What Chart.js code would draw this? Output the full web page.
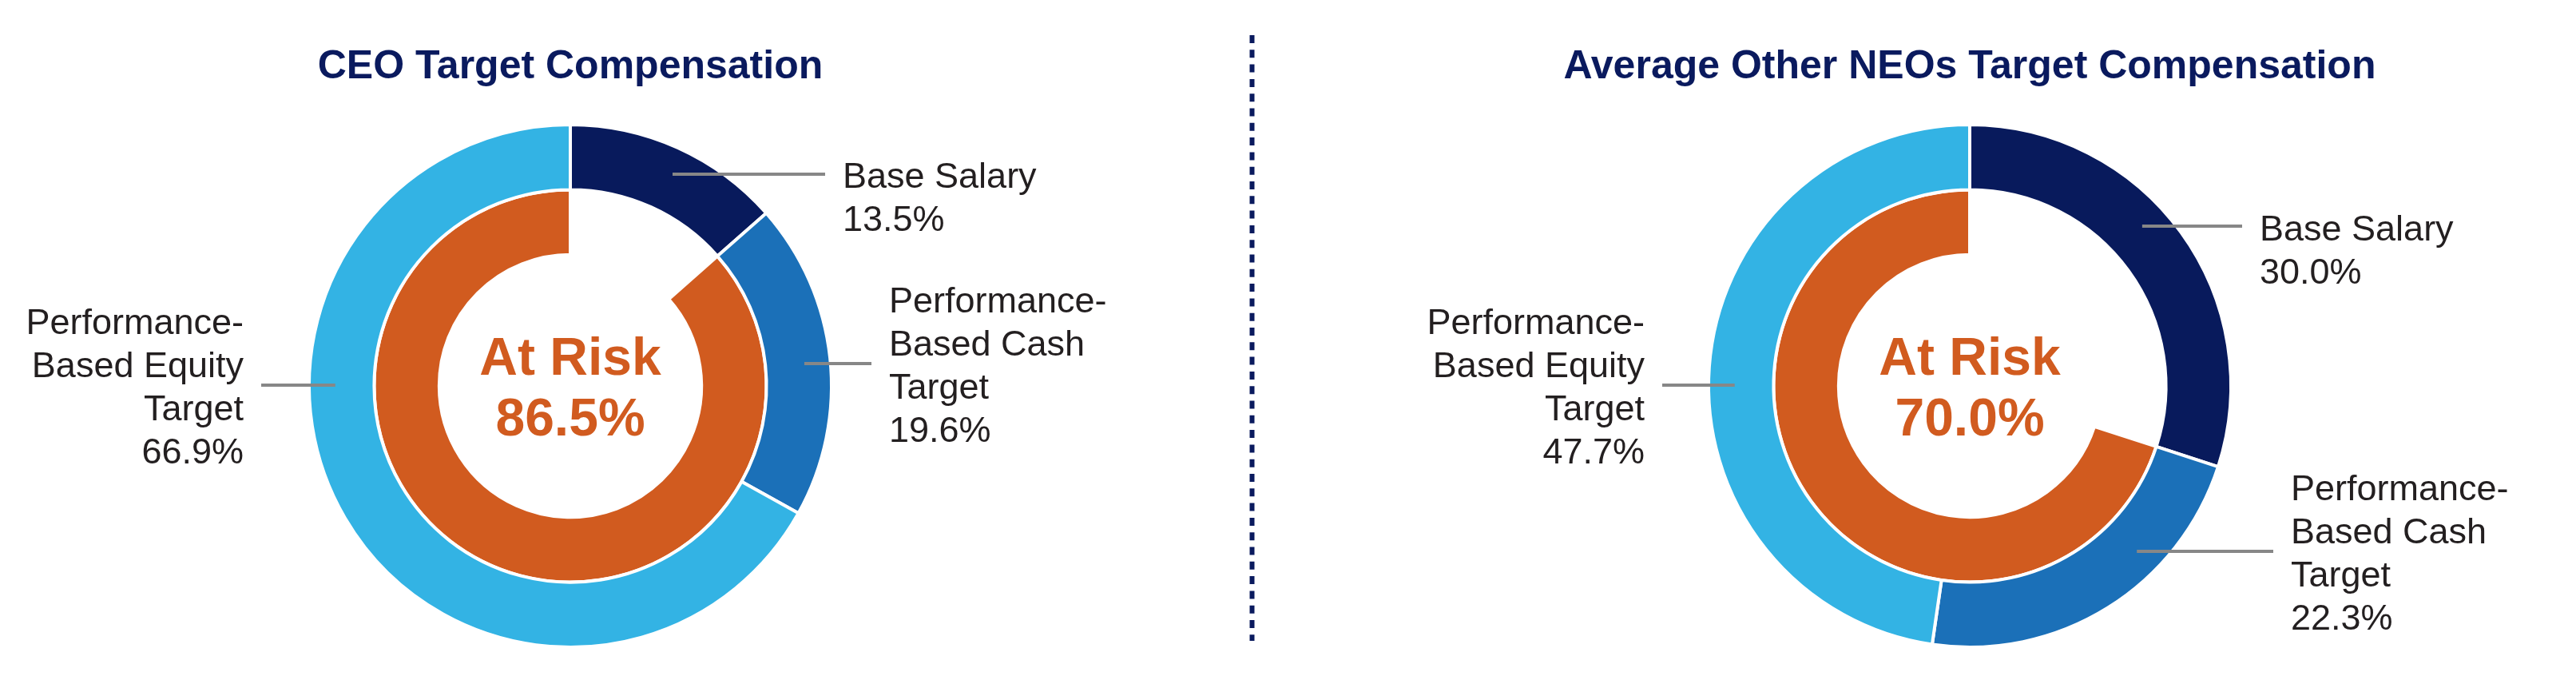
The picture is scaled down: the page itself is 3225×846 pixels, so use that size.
<!DOCTYPE html>
<html>
<head>
<meta charset="utf-8">
<script src="https://cdn.jsdelivr.net/npm/chart.js@4.4.1/dist/chart.umd.min.js"></script>
<style>
  html, body { margin: 0; padding: 0; background: #fff; }
  #wrap { position: relative; width: 3225px; height: 846px; }
  #wrap canvas { position: absolute; left: 0; top: 0; }
</style>
</head>
<body>
<div id="wrap">
  <canvas id="graficoCeo" width="3225" height="846"></canvas>
  <canvas id="graficoNeo" width="3225" height="846"></canvas>
</div>
<script>
// dados
var categorias = ['Base Salary', 'Performance-Based Cash Target', 'Performance-Based Equity Target'];
var linhasRotulo = [['Base Salary'], ['Performance-', 'Based Cash', 'Target'], ['Performance-', 'Based Equity', 'Target']];
var valoresCeo = [13.5, 19.6, 66.9];
var valoresNeo = [30.0, 22.3, 47.7];
var emRiscoCeo = 86.5;
var emRiscoNeo = 70.0;
var tituloCeo = 'CEO Target Compensation';
var tituloNeo = 'Average Other NEOs Target Compensation';

var cores = ['#081A5C', '#1B70B8', '#33B3E4'];
var corLaranja = '#D15B1F';
var corTitulo = '#0A1A5E';
var corTexto = '#231F20';
var fonte = '"Liberation Sans", Arial, Helvetica, sans-serif';

// posicoes dos rotulos (layout)
var posCeo = [
    { x: 1055, y: 235, ly: 218, align: 'left' },
    { x: 1113, y: 391, ly: 455, align: 'left' },
    { x: 305, y: 418, ly: 482, align: 'right' }
];
var posNeo = [
    { x: 2829, y: 301, ly: 283, align: 'left' },
    { x: 2868, y: 626, ly: 690, align: 'left' },
    { x: 2059, y: 418, ly: 482, align: 'right' }
];

var pluginTextos = {
    id: 'textos',
    afterDraw: function(chart, args, opts) {
        var ctx = chart.ctx;
        var meta = chart.getDatasetMeta(0);
        var valores = chart.data.datasets[0].data;
        var arco0 = meta.data[0];
        var cx = arco0.x, cy = arco0.y;

        ctx.save();

        // titulo
        ctx.fillStyle = corTitulo;
        ctx.font = 'bold 50px ' + fonte;
        ctx.textAlign = 'center';
        ctx.textBaseline = 'alphabetic';
        ctx.fillText(opts.titulo, cx, 98);

        // centro
        ctx.fillStyle = corLaranja;
        ctx.font = 'bold 66px ' + fonte;
        ctx.fillText('At Risk', cx, cy - 14);
        ctx.fillText(opts.emRisco.toFixed(1) + '%', cx, cy + 62);

        // rotulos e linhas
        opts.pos.forEach(function(p, i) {
            var arco = meta.data[i];
            var rm = (arco.innerRadius + arco.outerRadius) / 2 + 8;
            var dy = p.ly - cy;
            var dx = Math.sqrt(Math.max(rm * rm - dy * dy, 0));
            var x0 = p.align === 'left' ? cx + dx : cx - dx;
            var x1 = p.align === 'left' ? p.x - 22 : p.x + 22;

            ctx.strokeStyle = '#878787';
            ctx.lineWidth = 4;
            ctx.setLineDash([]);
            ctx.beginPath();
            ctx.moveTo(x0, p.ly);
            ctx.lineTo(x1, p.ly);
            ctx.stroke();

            ctx.fillStyle = corTexto;
            ctx.font = '45px ' + fonte;
            ctx.textAlign = p.align;
            var linhas = linhasRotulo[i].concat([valores[i].toFixed(1) + '%']);
            linhas.forEach(function(t, k) {
                ctx.fillText(t, p.x, p.y + k * 54);
            });
        });

        // divisor
        if (opts.divisor) {
            ctx.strokeStyle = corTitulo;
            ctx.lineWidth = 6;
            ctx.setLineDash([10, 8.3]);
            ctx.beginPath();
            ctx.moveTo(1567.5, 44);
            ctx.lineTo(1567.5, 802);
            ctx.stroke();
        }
        ctx.restore();
    }
};

function criarGrafico(id, valores, emRisco, titulo, pos, padding, divisor) {
    var contexto = document.getElementById(id).getContext('2d');
    return new Chart(contexto, {
        type: 'doughnut',
        data: {
            labels: categorias,
            datasets: [
                {
                    data: valores,
                    backgroundColor: cores,
                    borderColor: '#ffffff',
                    borderWidth: 4
                },
                {
                    data: [valores[0], emRisco],
                    backgroundColor: ['rgba(0,0,0,0)', corLaranja],
                    borderColor: ['rgba(0,0,0,0)', '#ffffff'],
                    borderWidth: 4
                }
            ]
        },
        options: {
            responsive: false,
            animation: false,
            radius: 327,
            cutout: '50.2%',
            layout: { padding: padding },
            plugins: {
                legend: { display: false },
                tooltip: { enabled: false },
                title: { display: false },
                textos: { titulo: titulo, emRisco: emRisco, pos: pos, divisor: divisor }
            }
        },
        plugins: [pluginTextos]
    });
}

criarGrafico('graficoCeo', valoresCeo, emRiscoCeo, tituloCeo, posCeo,
    { left: 0, right: 1797, top: 120, bottom: 0 }, true);
criarGrafico('graficoNeo', valoresNeo, emRiscoNeo, tituloNeo, posNeo,
    { left: 1707, right: 0, top: 120, bottom: 0 }, false);
</script>
</body>
</html>
